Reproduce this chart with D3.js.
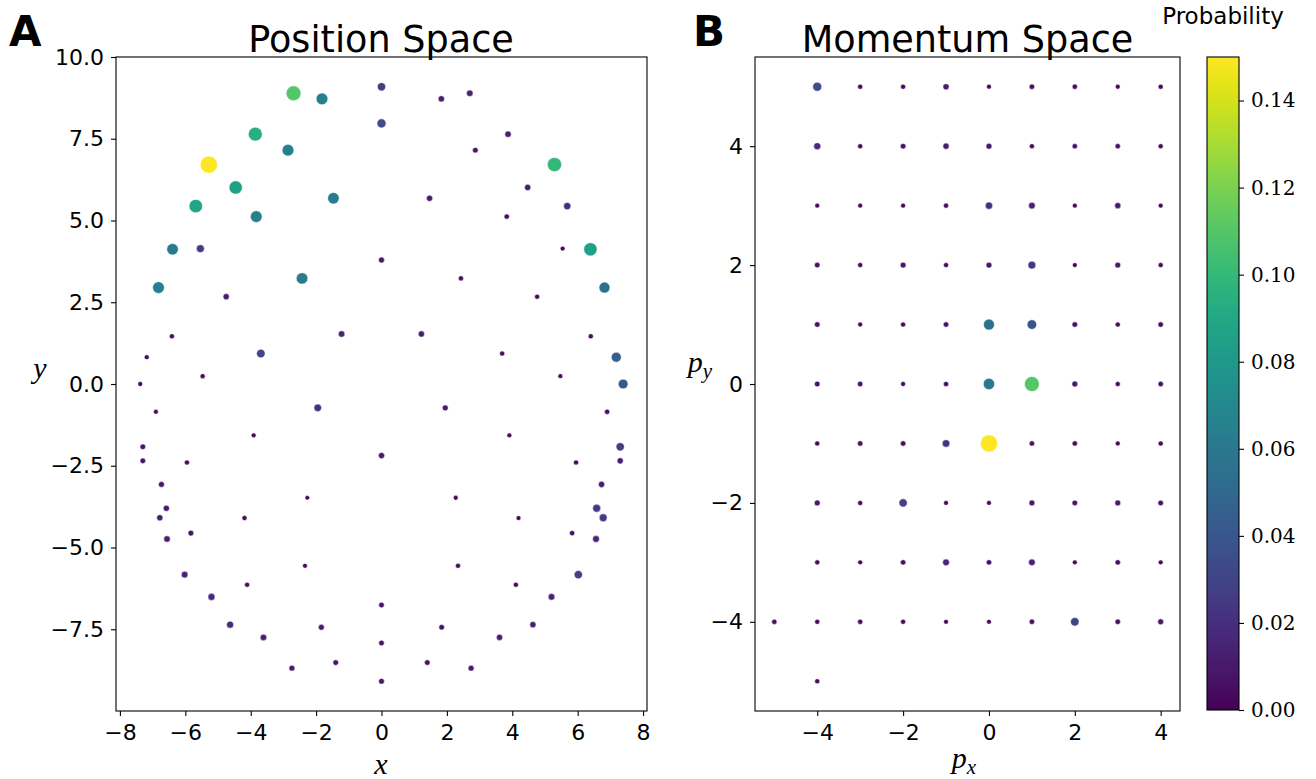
<!DOCTYPE html>
<html>
<head>
<meta charset="utf-8">
<script src="https://cdn.jsdelivr.net/npm/d3@7"></script>
<style>
  body { margin: 0; background: #fff; }
  svg text { font-family: "DejaVu Sans", sans-serif; fill: #000; }
</style>
</head>
<body>
<svg id="chart" width="1316" height="779"></svg>
<script>
// Position space: x, y, probability
const posX = [
  0, -1.82, -2.69, 1.83, 2.70, 0, -3.86, 3.87, -2.86, 2.87,
  -5.28, 5.29, -4.46, 4.47, -5.68, 5.68, -3.83, 3.83, -1.47, 1.47,
  -6.39, 6.39, -5.54, 5.54, -6.82, 6.82, -4.75, 4.76, -2.43, 2.43,
  0, -6.41, 6.40, -7.18, 7.18, -3.69, 3.69, -1.22, 1.22, -5.47,
  5.47, -7.38, 7.39,
  -6.90, 6.90, -1.95, 1.95, -3.91, 3.91, -7.30, 7.30, -7.30, 7.30,
  -5.95, 5.95, 0, -6.73, 6.73, -2.27, 2.27, -6.58, 6.58, -6.78,
  6.78, -4.19, 4.19, -6.56, 6.56, -5.83, 5.83, -2.34, 2.34, -6.02,
  6.02, -4.11, 4.11, -5.20, 5.20, 0, -4.63, 4.63, -1.84, 1.84,
  -3.61, 3.61, 0, -2.74, 2.74, -1.40, 1.40, 0
];
const posY = [
  9.09, 8.72, 8.89, 8.72, 8.89, 7.97, 7.64, 7.64, 7.15, 7.15,
  6.71, 6.71, 6.01, 6.01, 5.44, 5.44, 5.12, 5.12, 5.68, 5.68,
  4.12, 4.12, 4.14, 4.14, 2.95, 2.95, 2.67, 2.67, 3.23, 3.23,
  3.79, 1.46, 1.46, 0.82, 0.82, 0.93, 0.93, 1.53, 1.53, 0.24,
  0.24, 0.0, 0.0,
  -0.85, -0.85, -0.73, -0.73, -1.57, -1.57, -1.92, -1.92, -2.35, -2.35,
  -2.40, -2.40, -2.19, -3.07, -3.07, -3.48, -3.48, -3.80, -3.80, -4.09,
  -4.09, -4.10, -4.10, -4.74, -4.74, -4.56, -4.56, -5.56, -5.56, -5.83,
  -5.83, -6.14, -6.14, -6.51, -6.51, -6.76, -7.36, -7.36, -7.44, -7.44,
  -7.75, -7.75, -7.92, -8.69, -8.69, -8.52, -8.52, -9.09
];
const posProb = [
  0.028, 0.065, 0.110, 0.013, 0.014, 0.035, 0.095, 0.013, 0.065, 0.008,
  0.150, 0.100, 0.085, 0.012, 0.088, 0.020, 0.065, 0.006, 0.062, 0.012,
  0.062, 0.085, 0.025, 0.004, 0.065, 0.055, 0.012, 0.005, 0.062, 0.005,
  0.010, 0.005, 0.005, 0.004, 0.045, 0.030, 0.005, 0.014, 0.012, 0.005,
  0.004, 0.004, 0.042,
  0.004, 0.006, 0.022, 0.010, 0.004, 0.004, 0.008, 0.028, 0.008, 0.012,
  0.005, 0.005, 0.012, 0.010, 0.012, 0.003, 0.004, 0.012, 0.025, 0.012,
  0.025, 0.005, 0.004, 0.014, 0.016, 0.009, 0.006, 0.004, 0.005, 0.015,
  0.028, 0.005, 0.005, 0.018, 0.015, 0.008, 0.018, 0.012, 0.010, 0.008,
  0.014, 0.012, 0.008, 0.010, 0.010, 0.008, 0.008, 0.009
];

// Momentum space: grid rows (py) x columns (px)
const momCols = [-4, -3, -2, -1, 0, 1, 2, 3, 4];
const momRows = [5, 4, 3, 2, 1, 0, -1, -2, -3, -4];
const momGrid = [
  [0.035, 0.005, 0.005, 0.012, 0.004, 0.007, 0.006, 0.004, 0.005],
  [0.018, 0.005, 0.008, 0.012, 0.010, 0.005, 0.006, 0.006, 0.005],
  [0.004, 0.004, 0.004, 0.005, 0.020, 0.015, 0.004, 0.012, 0.004],
  [0.008, 0.005, 0.010, 0.005, 0.010, 0.025, 0.004, 0.010, 0.005],
  [0.008, 0.004, 0.005, 0.007, 0.055, 0.040, 0.008, 0.005, 0.007],
  [0.008, 0.007, 0.004, 0.006, 0.060, 0.110, 0.010, 0.005, 0.007],
  [0.005, 0.007, 0.007, 0.022, 0.150, 0.006, 0.006, 0.004, 0.005],
  [0.010, 0.005, 0.028, 0.004, 0.004, 0.010, 0.008, 0.010, 0.008],
  [0.005, 0.004, 0.007, 0.016, 0.007, 0.015, 0.004, 0.007, 0.004],
  [0.005, 0.006, 0.005, 0.004, 0.004, 0.007, 0.030, 0.007, 0.010]
];
const momExtraPx = [-5, -4];
const momExtraPy = [-4, -5];
const momExtraProb = [0.006, 0.005];

const posXTicks = [-8, -6, -4, -2, 0, 2, 4, 6, 8];
const posYTicks = [-7.5, -5, -2.5, 0, 2.5, 5, 7.5, 10];
const momTicks = [-4, -2, 0, 2, 4];
const cbarTicks = [0, 0.02, 0.04, 0.06, 0.08, 0.10, 0.12, 0.14];

const svg = d3.select("#chart");
svg.append("rect").attr("width", 1316).attr("height", 779).attr("fill", "#fff");

const plotTop = 57, plotBottom = 711;
const pMax = 0.15;
const color = d3.scaleSequential(d3.interpolateViridis).domain([0, pMax]);
const area = d3.scaleLinear().domain([0, pMax]).range([4, 74]);
const radius = p => Math.sqrt(area(p));
const minus = s => s.replace("-", "\u2212");

function drawPanel(points, x, y, xTicks, yTicks, fmtX, fmtY) {
  const g = svg.append("g");

  // points, smallest first
  g.selectAll("circle")
    .data(points.slice().sort((a, b) => a.p - b.p))
    .enter()
    .append("circle")
    .attr("cx", d => x(d.x))
    .attr("cy", d => y(d.y))
    .attr("r", d => radius(d.p))
    .attr("fill", d => color(d.p))
    .attr("stroke", "#fff")
    .attr("stroke-width", 0.5);

  // axes
  const ax = g.append("g")
    .attr("transform", `translate(0,${plotBottom})`)
    .call(d3.axisBottom(x).tickValues(xTicks).tickSize(5).tickPadding(8)
      .tickFormat(d => minus(fmtX(d))));
  const ay = g.append("g")
    .attr("transform", `translate(${x.range()[0]},0)`)
    .call(d3.axisLeft(y).tickValues(yTicks).tickSize(5).tickPadding(7)
      .tickFormat(d => minus(fmtY(d))));
  [ax, ay].forEach(a => {
    a.select(".domain").remove();
    a.selectAll("line").attr("stroke", "#000").attr("stroke-width", 1.1);
    a.selectAll("text").attr("font-size", "22px").attr("font-family", "DejaVu Sans");
  });

  // frame
  g.append("rect")
    .attr("x", x.range()[0]).attr("y", plotTop)
    .attr("width", x.range()[1] - x.range()[0]).attr("height", plotBottom - plotTop)
    .attr("fill", "none").attr("stroke", "#000").attr("stroke-width", 1.1);
}

// Panel A
const xA = d3.scaleLinear().domain([-8.12, 8.12]).range([116, 647]);
const yA = d3.scaleLinear().domain([-10, 10]).range([plotBottom, plotTop]);
const posPoints = posX.map((v, i) => ({ x: v, y: posY[i], p: posProb[i] }));
drawPanel(posPoints, xA, yA, posXTicks, posYTicks, d3.format("d"), d3.format(".1f"));

// Panel B
const xB = d3.scaleLinear().domain([-5.45, 4.45]).range([755, 1180]);
const yB = d3.scaleLinear().domain([-5.5, 5.5]).range([plotBottom, plotTop]);
const momPoints = [];
momRows.forEach((py, r) => momCols.forEach((px, c) => momPoints.push({ x: px, y: py, p: momGrid[r][c] })));
momExtraPx.forEach((px, i) => momPoints.push({ x: px, y: momExtraPy[i], p: momExtraProb[i] }));
drawPanel(momPoints, xB, yB, momTicks, momTicks, d3.format("d"), d3.format("d"));

// Titles and panel letters
svg.append("text").attr("x", 381).attr("y", 52).attr("text-anchor", "middle")
  .attr("font-size", "36.6px").text("Position Space");
svg.append("text").attr("x", 967.5).attr("y", 52).attr("text-anchor", "middle")
  .attr("font-size", "36.6px").text("Momentum Space");
svg.append("text").attr("x", 9).attr("y", 46).attr("font-size", "42px")
  .attr("font-weight", "bold").text("A");
svg.append("text").attr("x", 693).attr("y", 46).attr("font-size", "42px")
  .attr("font-weight", "bold").text("B");

// Axis labels (math italic)
const mathFont = "'Liberation Serif', 'DejaVu Serif', serif";
function mathLabel(x, y, base, sub) {
  const t = svg.append("text").attr("x", x).attr("y", y).attr("text-anchor", "middle")
    .style("font-family", mathFont).attr("font-style", "italic").attr("font-size", "30px");
  t.append("tspan").text(base);
  if (sub) t.append("tspan").attr("dy", 6).attr("font-size", "21px").text(sub);
}
mathLabel(381, 774, "x");
mathLabel(40, 378, "y");
mathLabel(964, 768, "p", "x");
mathLabel(700, 372, "p", "y");

// Colorbar
const cbX = 1207, cbW = 32;
const cScale = d3.scaleLinear().domain([0, pMax]).range([710, plotTop]);
const grad = svg.append("defs").append("linearGradient")
  .attr("id", "viridis").attr("x1", 0).attr("y1", 1).attr("x2", 0).attr("y2", 0);
d3.range(0, 1.0001, 0.02).forEach(t => {
  grad.append("stop").attr("offset", t).attr("stop-color", d3.interpolateViridis(t));
});
svg.append("rect").attr("x", cbX).attr("y", plotTop).attr("width", cbW)
  .attr("height", 710 - plotTop).attr("fill", "url(#viridis)")
  .attr("stroke", "#000").attr("stroke-width", 1.1);
const cax = svg.append("g").attr("transform", `translate(${cbX + cbW},0)`)
  .call(d3.axisRight(cScale).tickValues(cbarTicks).tickSize(5).tickPadding(7)
    .tickFormat(d3.format(".2f")));
cax.select(".domain").remove();
cax.selectAll("line").attr("stroke", "#000").attr("stroke-width", 1.1);
cax.selectAll("text").attr("font-size", "20px").style("font-family", "'DejaVu Serif', serif");
svg.append("text").attr("x", 1223).attr("y", 24).attr("text-anchor", "middle")
  .attr("font-size", "23px").text("Probability");
</script>
</body>
</html>
